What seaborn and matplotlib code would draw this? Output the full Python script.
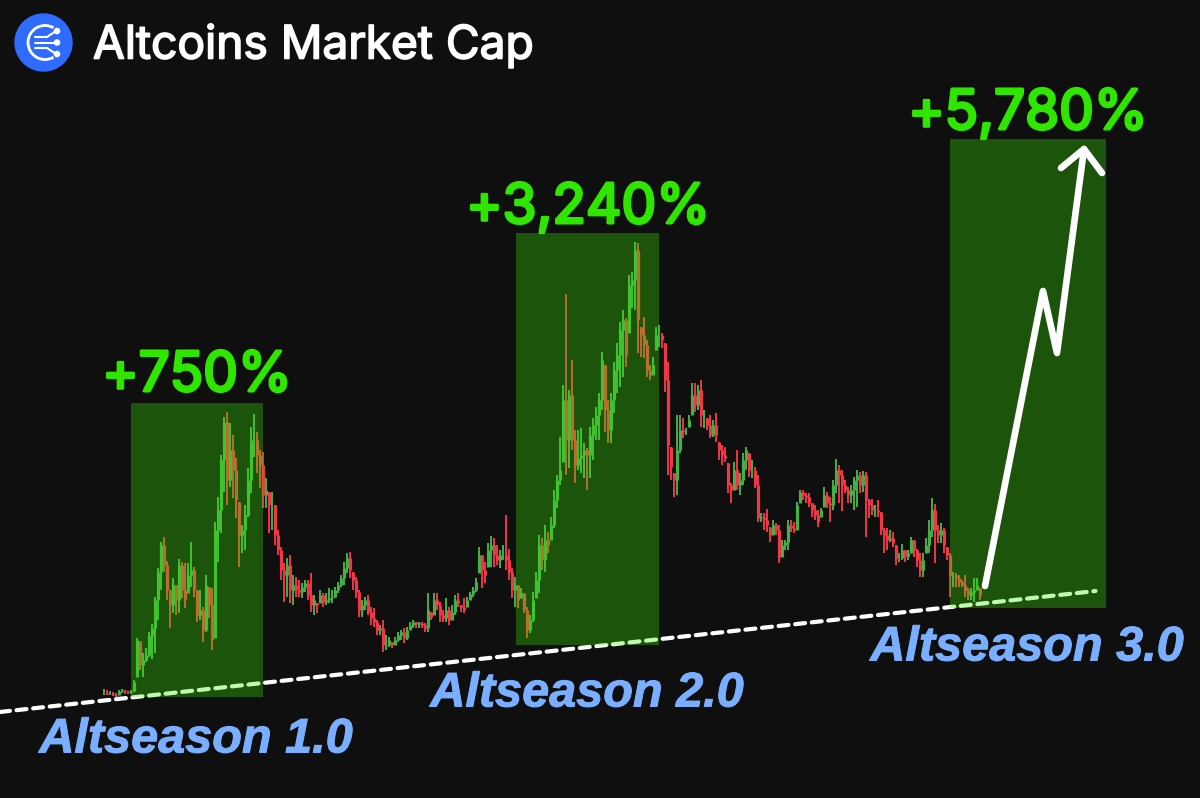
import numpy as np
import pandas as pd
import matplotlib
matplotlib.use("Agg")
import matplotlib.pyplot as plt
import matplotlib.patheffects as pe
from matplotlib.patches import Arc, Circle, Rectangle
import seaborn as sns

# Candle series, one row per about ten sessions. Levels grow downward on the chart axis.
highs = [
    689, 690, 691, 692, 693, 690, 689, 690, 691, 690,
    680, 638, 641, 653, 648, 632, 624, 597, 568, 542,
    537, 561, 590, 578, 585, 559, 562, 563, 563, 542,
    567, 590, 590, 607, 575, 587, 588, 522, 497, 455,
    417, 412, 423, 435, 458, 502, 525, 505, 468, 427,
    414, 432, 450, 452, 478, 492, 492, 505, 530, 547,
    563, 558, 555, 575, 577, 580, 583, 580, 580, 573,
    595, 603, 590, 593, 593, 588, 590, 587, 582, 575,
    562, 553, 552, 572, 577, 590, 600, 597, 595, 607,
    608, 620, 625, 620, 635, 637, 642, 637, 632, 630,
    628, 627, 622, 620, 622, 622, 622, 623, 593, 612,
    593, 593, 602, 610, 598, 607, 605, 595, 593, 605,
    598, 597, 592, 587, 578, 547, 555, 562, 543, 536,
    538, 545, 550, 545, 515, 549, 568, 577, 585, 588,
    593, 607, 615, 592, 572, 535, 538, 525, 532, 517,
    490, 475, 437, 385, 294, 390, 360, 430, 430, 428, 443,
    448, 427, 418, 407, 393, 352, 365, 400, 393, 362, 343,
    322, 310, 318, 275, 272, 242, 243, 327, 317, 340,
    365, 357, 327, 325, 333, 343, 362, 447,
    473, 415, 415, 418, 428, 415, 383, 383, 385, 380,
    410, 418, 415, 420, 413, 442, 445, 447, 463, 483,
    462, 450, 473, 453, 447, 453, 460, 467, 475, 513,
    513, 509, 527, 520, 523, 525, 540, 540, 520, 520,
    522, 502, 490, 490, 493, 493, 503, 505, 510, 508,
    487, 492, 497, 480, 459, 465, 470, 480, 487, 485,
    477, 470, 472, 471, 472, 499, 499, 505, 500, 512,
    528, 528, 530, 532, 545, 553, 544, 550, 550, 537,
    540, 549, 553, 553, 538, 520, 498, 504, 525, 523,
    528, 547, 553, 572, 573, 575, 580, 575, 588, 588,
    578, 578, 588,
]
lows = [
    695, 695, 695, 696, 697, 695, 693, 694, 694, 694,
    692, 677, 670, 677, 662, 657, 659, 653, 620, 590,
    572, 600, 628, 613, 615, 613, 598, 608, 593, 587,
    597, 622, 620, 642, 632, 618, 650, 638, 562, 533,
    492, 505, 487, 498, 518, 567, 553, 550, 517, 493,
    457, 473, 488, 508, 508, 533, 530, 545, 555, 580,
    602, 597, 603, 605, 597, 597, 598, 592, 600, 612,
    615, 613, 603, 607, 605, 603, 603, 598, 593, 587,
    585, 573, 578, 590, 598, 617, 617, 610, 615, 625,
    627, 635, 635, 652, 650, 647, 648, 645, 642, 640,
    643, 640, 630, 628, 628, 628, 628, 632, 632, 620,
    615, 610, 622, 622, 622, 625, 620, 615, 607, 612,
    613, 607, 600, 597, 592, 573, 588, 583, 567, 567,
    567, 565, 568, 560, 570, 580, 598, 607, 608, 598,
    613, 638, 633, 622, 598, 593, 570, 572, 553, 540,
    528, 508, 485, 462, 475, 468, 450, 483, 470, 473, 478,
    490, 478, 460, 440, 440, 410, 432, 443, 443, 413, 393,
    387, 377, 367, 333, 308, 310, 353, 357, 358, 377,
    380, 375, 350, 347, 348, 392, 475, 480,
    497, 495, 453, 438, 435, 427, 415, 412, 410, 427,
    428, 430, 438, 437, 442, 460, 465, 462, 493, 503,
    490, 490, 495, 485, 470, 477, 478, 488, 522, 522,
    530, 532, 542, 535, 535, 563, 557, 550, 550, 532,
    533, 530, 503, 500, 503, 507, 517, 520, 527, 517,
    507, 508, 522, 510, 493, 503, 511, 493, 503, 503,
    510, 507, 493, 492, 537, 518, 515, 517, 517, 535,
    553, 550, 542, 547, 565, 562, 560, 562, 560, 553,
    557, 567, 577, 577, 553, 553, 537, 563, 543, 543,
    553, 560, 597, 587, 587, 587, 587, 597, 600, 600,
    602, 590, 600,
]
closes = [
    693, 694, 694, 695, 696, 691, 690, 691, 692, 691,
    682, 640, 665, 660, 655, 636, 628, 600, 572, 545,
    565, 590, 605, 585, 600, 565, 590, 600, 575, 570,
    590, 615, 610, 630, 585, 605, 640, 530, 510, 460,
    422, 480, 450, 470, 500, 535, 530, 515, 480, 440,
    440, 455, 465, 495, 490, 505, 505, 535, 550, 570,
    575, 565, 590, 585, 590, 592, 587, 583, 595, 605,
    600, 605, 595, 602, 600, 598, 597, 590, 585, 578,
    568, 558, 570, 580, 592, 610, 605, 600, 612, 618,
    622, 630, 628, 645, 645, 640, 645, 640, 635, 632,
    638, 630, 625, 622, 624, 623, 625, 628, 610, 617,
    600, 605, 615, 618, 610, 620, 612, 600, 603, 607,
    610, 600, 594, 590, 582, 555, 570, 575, 550, 545,
    555, 560, 555, 555, 560, 572, 590, 585, 600, 593,
    610, 630, 620, 600, 580, 545, 560, 540, 545, 525,
    500, 480, 470, 400, 440, 395, 440, 465, 458, 455, 450,
    455, 435, 425, 415, 400, 360, 410, 430, 400, 370, 355,
    330, 320, 355, 285, 280, 250, 320, 335, 345, 370,
    375, 365, 335, 335, 340, 380, 445, 467,
    480, 450, 430, 432, 432, 420, 395, 405, 390, 415,
    415, 425, 435, 425, 435, 450, 455, 458, 485, 490,
    470, 485, 480, 460, 450, 470, 470, 485, 518, 517,
    520, 525, 535, 525, 530, 557, 545, 542, 525, 528,
    530, 505, 492, 495, 497, 503, 510, 515, 522, 510,
    495, 503, 505, 485, 470, 475, 485, 490, 495, 490,
    480, 475, 485, 475, 500, 505, 510, 510, 512, 530,
    535, 540, 538, 543, 558, 558, 550, 556, 553, 540,
    550, 560, 570, 560, 545, 530, 510, 530, 535, 530,
    545, 555, 575, 575, 578, 582, 585, 590, 595, 592,
    590, 585, 595,
]

# Altseason windows, in sessions and chart levels
season_names = ["Altseason 1.0", "Altseason 2.0", "Altseason 3.0"]
season_gains = ["+750%", "+3,240%", "+5,780%"]
season_starts = [9.0, 137.3, 282.0]
season_ends = [53.0, 185.0, 334.0]
season_tops = [403, 233, 139]
season_bottoms = [697, 645, 608]

# Projected path after the last candle, in figure pixels
projection_x = [985, 1043, 1057, 1084]
projection_y = [586, 291, 353, 149]

BACKGROUND = "#0f0f0f"
UP, DOWN = "#45b045", "#f23645"
HIGHLIGHT = "#36f000"
GAIN = "#2ee600"
SEASON = "#7aaeff"

sns.set_theme(style="dark", rc={"axes.facecolor": BACKGROUND, "figure.facecolor": BACKGROUND})

sessions = np.arange(len(closes))
close_arr = np.array(closes, float)
open_arr = np.r_[close_arr[0], close_arr[:-1]]
open_arr = np.clip(open_arr, highs, lows)
body_top = np.minimum(open_arr, close_arr)
body_bottom = np.maximum(open_arr, close_arr)
direction = np.where(close_arr <= open_arr, "up", "down")


def span_frame(start, stop):
    """Long table with two rows per session, one vertical segment each."""
    return pd.DataFrame({
        "session": np.r_[sessions, sessions],
        "level": np.r_[start, stop],
        "direction": np.r_[direction, direction],
    })


fig = plt.figure(figsize=(12, 7.98), dpi=100, facecolor=BACKGROUND)
ax = fig.add_axes([0, 0, 1, 1])

palette = {"up": UP, "down": DOWN}
for frame, width in ((span_frame(np.array(highs, float), np.array(lows, float)), 1.4),
                     (span_frame(body_top, body_bottom), 2.3)):
    sns.lineplot(data=frame, x="session", y="level", units="session", hue="direction",
                 estimator=None, palette=palette, linewidth=width, legend=False, ax=ax,
                 sort=False, solid_capstyle="butt", zorder=2)
ax.set_xlim(-104 / 3, (1200 - 104) / 3)
ax.set_ylim(798, 0)
ax.axis("off")

# Rising support line, dashed
ax.plot([-34.67, 330.5], [712, 591], color="white", lw=3.0, dashes=(2.4, 1.6),
        dash_capstyle="round", zorder=3)

# Translucent windows sit over the candles and tint them
for s, e, t, b in zip(season_starts, season_ends, season_tops, season_bottoms):
    ax.add_patch(Rectangle((s, t), e - s, b - t, facecolor=HIGHLIGHT, edgecolor="none",
                           alpha=0.31, zorder=4))

# Decoration layer in figure pixels
top = fig.add_axes([0, 0, 1, 1], facecolor="none")
top.set_xlim(0, 1200)
top.set_ylim(798, 0)
top.axis("off")

top.plot(projection_x, projection_y, color="white", lw=4.8, solid_capstyle="round",
         solid_joinstyle="round", zorder=6)
top.plot([1061, 1084, 1102], [168, 149, 173], color="white", lw=4.8, solid_capstyle="round",
         solid_joinstyle="round", zorder=6)

# Logo badge
top.add_patch(Circle((43.5, 42.5), 28.5, color="#2f6bff", zorder=6))
top.add_patch(Arc((45, 42.5), 34, 34, theta1=60, theta2=300, color="white", lw=2, zorder=7))
for y0, y1 in ((37, 31), (42.5, 42.5), (48, 54)):
    top.plot([35, 47, 56], [y0, y0, y1], color="white", lw=1.5, zorder=7)
    top.add_patch(Circle((57, y1), 2.6, color="white", zorder=7))

TITLE_FONT = ["Inter", "DejaVu Sans"]
title = top.text(93, 46, "Altcoins Market Cap", color="white", fontsize=33.2,
                 family=TITLE_FONT, ha="left", va="center", zorder=7)
title.set_path_effects([pe.withStroke(linewidth=1.2, foreground="white")])

for label, x, y in zip(season_gains, (197, 588, 1028), (376, 208, 114)):
    gain = top.text(x, y, label, color=GAIN, fontsize=39.6, family=TITLE_FONT,
                    ha="center", va="center", zorder=7)
    gain.set_path_effects([pe.withStroke(linewidth=2.2, foreground=GAIN)])
for label, x, y in zip(season_names, (196, 587, 1027), (740, 694, 648)):
    season = top.text(x, y, label, color=SEASON, fontsize=35, fontweight="bold", style="italic",
                      family=["Liberation Sans", "DejaVu Sans"], ha="center", va="center", zorder=7)
    season.set_path_effects([pe.withStroke(linewidth=0.7, foreground=SEASON)])

fig.savefig("out.png", dpi=100, facecolor=BACKGROUND)
